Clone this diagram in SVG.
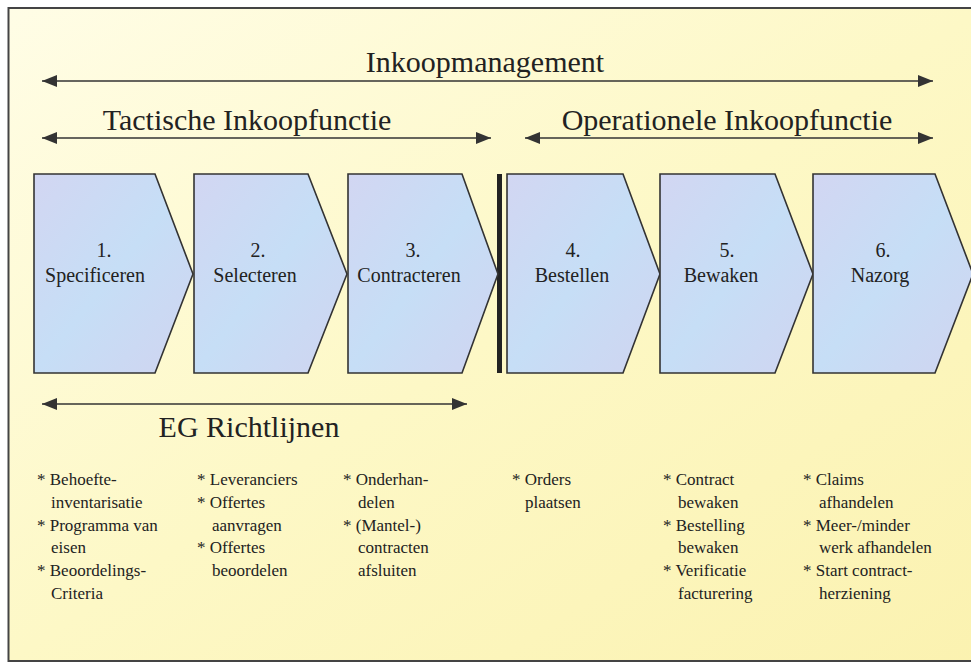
<svg xmlns="http://www.w3.org/2000/svg" width="971" height="663" viewBox="0 0 971 663">
<defs>
<linearGradient id="bg" x1="0" y1="0" x2="1" y2="1">
<stop offset="0" stop-color="#FFFDE6"/>
<stop offset="0.5" stop-color="#FDF8C6"/>
<stop offset="1" stop-color="#FBF2B0"/>
</linearGradient>
<linearGradient id="chevfill" x1="0" y1="0" x2="1" y2="1">
<stop offset="0" stop-color="#D2D6F2"/>
<stop offset="0.5" stop-color="#C6DEF6"/>
<stop offset="1" stop-color="#D0D4F0"/>
</linearGradient>
<marker id="ah" markerUnits="userSpaceOnUse" markerWidth="15" markerHeight="12" refX="15" refY="6" orient="auto-start-reverse">
<path d="M0,0 L15,6 L0,12 Z" fill="#333"/>
</marker>
</defs>
<style>
.big{font-size:30px;fill:#222;text-anchor:middle}
.lbl{font-size:20px;fill:#222;text-anchor:middle}
.item{font-size:17px;fill:#222}
.chev{fill:url(#chevfill);stroke:#333;stroke-width:1.6}
.conn{stroke:#333;stroke-width:1.6;fill:none;marker-start:url(#ah);marker-end:url(#ah)}
</style>
<rect x="0" y="0" width="971" height="663" fill="#FFFFFF"/>
<rect id="frame" x="8.5" y="8" width="975" height="653" fill="url(#bg)" stroke="#444" stroke-width="2"/>

<g id="connectors">
<line class="conn" x1="42" y1="81" x2="933" y2="81"/>
<line class="conn" x1="42" y1="138" x2="491" y2="138"/>
<line class="conn" x1="525" y1="138" x2="933" y2="138"/>
<line class="conn" x1="42" y1="404" x2="467" y2="404"/>
</g>

<g id="titles">
<text class="big" font-family="Liberation Serif, Times New Roman, serif" x="485" y="72">Inkoopmanagement</text>
<text class="big" font-family="Liberation Serif, Times New Roman, serif" x="247" y="130">Tactische Inkoopfunctie</text>
<text class="big" font-family="Liberation Serif, Times New Roman, serif" x="727" y="130">Operationele Inkoopfunctie</text>
<text class="big" font-family="Liberation Serif, Times New Roman, serif" x="249" y="437">EG Richtlijnen</text>
</g>

<rect id="divider" x="497" y="174" width="5" height="199" fill="#222"/>

<g id="step1">
<path class="chev" d="M34,174 L155,174 L193,274 L155,373 L34,373 Z"/>
<text class="lbl" font-family="Liberation Serif, Times New Roman, serif" x="104" y="257">1.</text>
<text class="lbl" font-family="Liberation Serif, Times New Roman, serif" x="95" y="282">Specificeren</text>
</g>
<g id="step2">
<path class="chev" d="M194,174 L308,174 L347,274 L308,373 L194,373 Z"/>
<text class="lbl" font-family="Liberation Serif, Times New Roman, serif" x="258" y="257">2.</text>
<text class="lbl" font-family="Liberation Serif, Times New Roman, serif" x="255" y="282">Selecteren</text>
</g>
<g id="step3">
<path class="chev" d="M348,174 L462,174 L498,274 L462,373 L348,373 Z"/>
<text class="lbl" font-family="Liberation Serif, Times New Roman, serif" x="413" y="257">3.</text>
<text class="lbl" font-family="Liberation Serif, Times New Roman, serif" x="409" y="282">Contracteren</text>
</g>
<g id="step4">
<path class="chev" d="M507,174 L623,174 L660,274 L623,373 L507,373 Z"/>
<text class="lbl" font-family="Liberation Serif, Times New Roman, serif" x="573" y="257">4.</text>
<text class="lbl" font-family="Liberation Serif, Times New Roman, serif" x="572" y="282">Bestellen</text>
</g>
<g id="step5">
<path class="chev" d="M660,174 L775,174 L813,274 L775,373 L660,373 Z"/>
<text class="lbl" font-family="Liberation Serif, Times New Roman, serif" x="727" y="257">5.</text>
<text class="lbl" font-family="Liberation Serif, Times New Roman, serif" x="721" y="282">Bewaken</text>
</g>
<g id="step6">
<path class="chev" d="M813,174 L935,174 L973,274 L935,373 L813,373 Z"/>
<text class="lbl" font-family="Liberation Serif, Times New Roman, serif" x="883" y="257">6.</text>
<text class="lbl" font-family="Liberation Serif, Times New Roman, serif" x="880" y="282">Nazorg</text>
</g>

<g id="list1">
<text class="item" font-family="Liberation Serif, Times New Roman, serif" x="37" y="485">* Behoefte-</text>
<text class="item" font-family="Liberation Serif, Times New Roman, serif" x="51" y="508">inventarisatie</text>
<text class="item" font-family="Liberation Serif, Times New Roman, serif" x="37" y="531">* Programma van</text>
<text class="item" font-family="Liberation Serif, Times New Roman, serif" x="51" y="553">eisen</text>
<text class="item" font-family="Liberation Serif, Times New Roman, serif" x="37" y="576">* Beoordelings-</text>
<text class="item" font-family="Liberation Serif, Times New Roman, serif" x="51" y="599">Criteria</text>
</g>
<g id="list2">
<text class="item" font-family="Liberation Serif, Times New Roman, serif" x="197" y="485">* Leveranciers</text>
<text class="item" font-family="Liberation Serif, Times New Roman, serif" x="197" y="508">* Offertes</text>
<text class="item" font-family="Liberation Serif, Times New Roman, serif" x="212" y="531">aanvragen</text>
<text class="item" font-family="Liberation Serif, Times New Roman, serif" x="197" y="553">* Offertes</text>
<text class="item" font-family="Liberation Serif, Times New Roman, serif" x="212" y="576">beoordelen</text>
</g>
<g id="list3">
<text class="item" font-family="Liberation Serif, Times New Roman, serif" x="343" y="485">* Onderhan-</text>
<text class="item" font-family="Liberation Serif, Times New Roman, serif" x="358" y="508">delen</text>
<text class="item" font-family="Liberation Serif, Times New Roman, serif" x="343" y="531">* (Mantel-)</text>
<text class="item" font-family="Liberation Serif, Times New Roman, serif" x="358" y="553">contracten</text>
<text class="item" font-family="Liberation Serif, Times New Roman, serif" x="358" y="576">afsluiten</text>
</g>
<g id="list4">
<text class="item" font-family="Liberation Serif, Times New Roman, serif" x="512" y="485">* Orders</text>
<text class="item" font-family="Liberation Serif, Times New Roman, serif" x="525" y="508">plaatsen</text>
</g>
<g id="list5">
<text class="item" font-family="Liberation Serif, Times New Roman, serif" x="663" y="485">* Contract</text>
<text class="item" font-family="Liberation Serif, Times New Roman, serif" x="678" y="508">bewaken</text>
<text class="item" font-family="Liberation Serif, Times New Roman, serif" x="663" y="531">* Bestelling</text>
<text class="item" font-family="Liberation Serif, Times New Roman, serif" x="678" y="553">bewaken</text>
<text class="item" font-family="Liberation Serif, Times New Roman, serif" x="663" y="576">* Verificatie</text>
<text class="item" font-family="Liberation Serif, Times New Roman, serif" x="678" y="599">facturering</text>
</g>
<g id="list6">
<text class="item" font-family="Liberation Serif, Times New Roman, serif" x="803" y="485">* Claims</text>
<text class="item" font-family="Liberation Serif, Times New Roman, serif" x="819" y="508">afhandelen</text>
<text class="item" font-family="Liberation Serif, Times New Roman, serif" x="803" y="531">* Meer-/minder</text>
<text class="item" font-family="Liberation Serif, Times New Roman, serif" x="819" y="553">werk afhandelen</text>
<text class="item" font-family="Liberation Serif, Times New Roman, serif" x="803" y="576">* Start contract-</text>
<text class="item" font-family="Liberation Serif, Times New Roman, serif" x="819" y="599">herziening</text>
</g>
</svg>
